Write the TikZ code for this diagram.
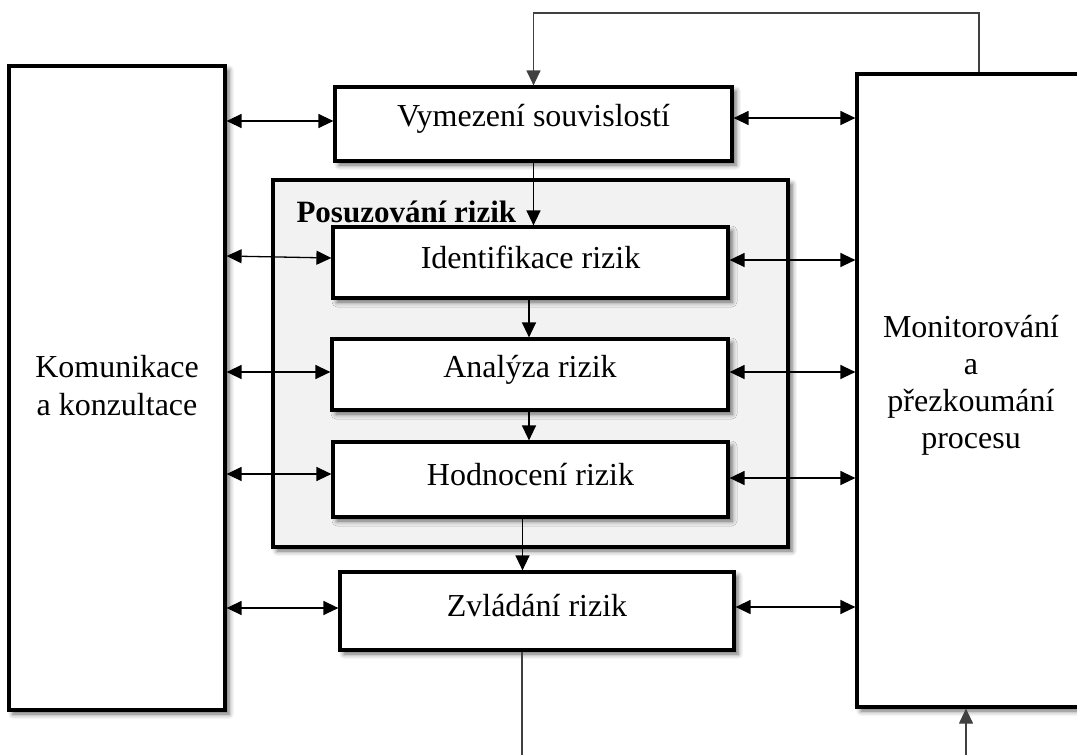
\documentclass[tikz,border=0pt]{standalone}
\usepackage{fontspec}
\setmainfont{Liberation Serif}
\usetikzlibrary{arrows.meta,shadows.blur}
\definecolor{panelgray}{HTML}{F2F2F2}
\definecolor{linegray}{HTML}{404040}
\newcommand{\up}[1]{\raisebox{5pt}[\height][\depth]{#1}}
\begin{document}
\begin{tikzpicture}[x=1pt,y=-1pt,
  every node/.style={font=\fontsize{32}{38}\selectfont},
  box/.style={draw=black, line width=3.2pt, fill=white, inner sep=0pt,
    blur shadow={shadow xshift=4pt, shadow yshift=-4pt, shadow blur radius=5pt, shadow opacity=60}},
  panel/.style={box, fill=panelgray},
  arr/.style={line width=1.3pt, -{Triangle[length=15pt,width=14pt]}},
  biarr/.style={line width=1.3pt, {Triangle[length=15pt,width=14pt]}-{Triangle[length=15pt,width=14pt]}},
  thin/.style={line width=1.2pt, draw=linegray}
]
\useasboundingbox (0,0) rectangle (1077,755);

% large side boxes
\node[box, minimum width=216pt, minimum height=644pt] (komm) at (117,388) {};
\node[align=center] (kommtext) at (117,386) {Komunikace\\a konzultace};
\node[box, minimum width=250pt, minimum height=633pt] (mon) at (982,390.5) {};
\node[align=center, font=\fontsize{32}{37}\selectfont] (montext) at (971,385) {Monitorování\\a\\přezkoumání\\procesu};

% top box
\node[box, minimum width=397pt, minimum height=74pt] (vym) at (533.5,124) {\up{Vymezení souvislostí}};

% gray panel
\node[panel, minimum width=515pt, minimum height=367pt] (pan) at (530.5,363.5) {};
\node[anchor=base west, font=\bfseries\fontsize{31}{38}\selectfont] (pantitle) at (293,222) {Posuzování rizik};

\node[box, minimum width=395pt, minimum height=71pt] (ident) at (530.5,262.5) {\up{Identifikace rizik}};
\node[box, minimum width=396pt, minimum height=71pt] (anal) at (530,374.5) {\up{Analýza rizik}};
\node[box, minimum width=395pt, minimum height=75pt] (hod) at (530.5,479.5) {\up{Hodnocení rizik}};

\node[box, minimum width=394pt, minimum height=78pt] (zvl) at (537,611) {\up{Zvládání rizik}};

% horizontal double arrows, left
\draw[biarr] (komm.east |- 0,121) -- ([yshift=3pt]vym.west);
\draw[biarr] (komm.east |- 0,256) -- ([yshift=4.5pt]ident.west);
\draw[biarr] (komm.east |- 0,372) -- ([yshift=2.5pt]anal.west);
\draw[biarr] (komm.east |- 0,474) -- ([yshift=5.5pt]hod.west);
\draw[biarr] (komm.east |- 0,608) -- ([yshift=3pt]zvl.west);

% horizontal double arrows, right
\draw[biarr] ([yshift=6pt]vym.east) -- (mon.west |- 0,118);
\draw[biarr] ([yshift=2.5pt]ident.east) -- (mon.west |- 0,260);
\draw[biarr] ([yshift=2.5pt]anal.east) -- (mon.west |- 0,372);
\draw[biarr] ([yshift=1.5pt]hod.east) -- (mon.west |- 0,478);
\draw[biarr] ([yshift=4pt]zvl.east) -- (mon.west |- 0,607);

% vertical flow
\draw[arr] (vym.south) -- (vym.south |- ident.north);
\draw[arr] ([xshift=-1.5pt]ident.south) -- ([xshift=-1.5pt]ident.south |- anal.north);
\draw[arr] ([xshift=-1pt]anal.south) -- ([xshift=-1pt]anal.south |- hod.north);
\draw[arr] ([xshift=-8pt]hod.south) -- ([xshift=-8pt]hod.south |- zvl.north);

% loop lines
\coordinate (t1) at (979,13);
\draw[arr, thin] (mon.north -| t1) -- (t1) -| (vym.north);
\coordinate (b1) at (522,755);
\draw[thin] (zvl.south -| b1) -- (b1);
\coordinate (b2) at (966,755);
\draw[arr, thin] (b2) -- (b2 |- mon.south);
\end{tikzpicture}
\end{document}
